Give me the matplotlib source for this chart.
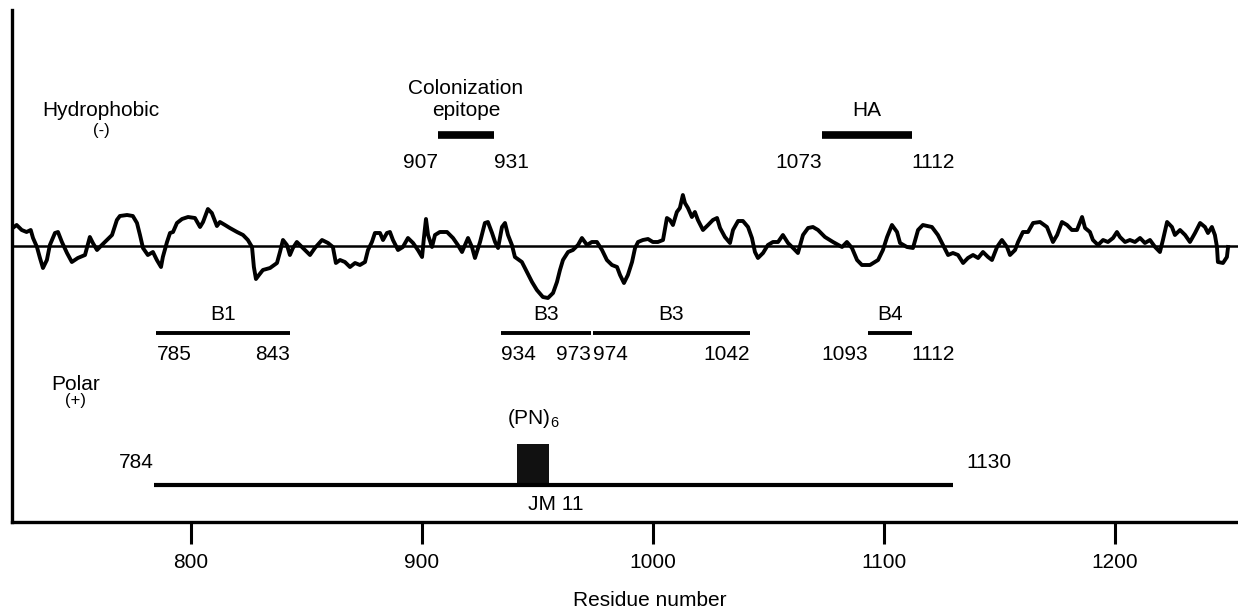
import matplotlib
matplotlib.use("Agg")
import matplotlib.pyplot as plt

plt.rcParams['font.family'] = ['Liberation Sans', 'DejaVu Sans']
plt.rcParams['mathtext.default'] = 'regular'

# hydropathy profile (positive = polar, drawn downwards)
residue = [722.8, 724.5, 726.7, 728.8, 730.6, 731.6, 733.3, 734.6, 735.9, 737.6,
           738.9, 741.1, 742.4, 744.1, 746.3, 748.4, 751.0, 754.1, 756.2, 757.5,
           759.3, 761.4, 763.6, 765.8, 767.9, 769.2, 772.3, 774.8, 776.6, 777.9,
           779.2, 781.3, 783.5, 785.2, 787.0, 787.8, 789.6, 790.9, 792.2, 793.9,
           796.1, 798.7, 801.7, 803.9, 805.2, 807.3, 809.0, 811.2, 812.5, 814.7,
           816.8, 819.9, 822.5, 824.6, 826.4, 827.2, 828.1, 829.4, 831.1, 834.2,
           837.2, 838.5, 839.8, 841.5, 842.8, 844.1, 845.8, 848.0, 849.3, 851.5,
           853.6, 856.7, 859.3, 861.4, 862.7, 864.5, 866.6, 868.8, 871.0, 873.1,
           875.3, 876.6, 878.3, 879.6, 881.8, 883.1, 884.8, 886.1, 887.4, 889.6,
           891.7, 893.9, 896.1, 898.2, 900.0, 900.8, 901.7, 902.6, 904.3, 905.6,
           907.7, 910.8, 913.4, 915.5, 917.3, 918.6, 919.9, 921.6, 922.9, 925.1,
           927.2, 928.5, 930.3, 931.6, 932.9, 934.6, 935.9, 937.2, 938.9, 940.2,
           943.2, 945.4, 947.6, 949.7, 952.3, 954.5, 956.7, 958.4, 959.7, 961.0,
           963.2, 965.3, 967.5, 969.2, 971.4, 973.5, 975.7, 977.9, 980.0, 982.2,
           984.4, 985.7, 987.4, 989.1, 990.9, 992.2, 993.5, 995.6, 997.8, 999.9,
           1002.1, 1004.3, 1006.0, 1007.3, 1008.6, 1010.3, 1011.6, 1012.9, 1013.8, 1015.1,
           1016.8, 1018.1, 1019.4, 1021.6, 1023.8, 1025.9, 1027.7, 1029.0, 1031.1, 1033.3,
           1034.6, 1036.8, 1038.9, 1041.1, 1042.8, 1044.1, 1045.4, 1047.6, 1049.7, 1051.9,
           1054.1, 1056.2, 1058.4, 1060.6, 1062.7, 1064.9, 1067.1, 1069.2, 1071.4, 1074.4,
           1077.9, 1081.8, 1083.9, 1086.1, 1088.3, 1090.4, 1093.9, 1097.4, 1099.5, 1101.3,
           1103.4, 1105.6, 1106.9, 1109.9, 1112.5, 1114.7, 1116.8, 1120.7, 1123.3, 1125.5,
           1127.7, 1129.8, 1132.0, 1134.2, 1136.3, 1138.5, 1140.7, 1142.8, 1145.0, 1146.7,
           1148.9, 1151.0, 1153.2, 1154.5, 1156.7, 1158.0, 1160.1, 1162.3, 1164.5, 1167.5,
           1170.5, 1173.1, 1174.9, 1177.0, 1179.2, 1181.3, 1183.5, 1185.7, 1187.0, 1189.1,
           1190.4, 1192.6, 1194.8, 1196.9, 1199.1, 1200.8, 1202.1, 1204.3, 1206.4, 1208.6,
           1210.8, 1212.9, 1215.1, 1217.3, 1219.4, 1220.7, 1222.5, 1224.6, 1225.9, 1228.1,
           1230.3, 1232.4, 1234.6, 1236.8, 1238.9, 1240.2, 1241.9, 1243.2, 1244.1, 1244.5,
           1246.7, 1248.4, 1248.9]
hydropathy = [-0.72, -0.84, -0.64, -0.56, -0.64, -0.32, 0.04, 0.48, 0.88, 0.56,
              -0.04, -0.52, -0.56, -0.16, 0.28, 0.64, 0.48, 0.36, -0.36, -0.12,
              0.16, -0.04, -0.24, -0.44, -1.04, -1.2, -1.24, -1.2, -0.92, -0.44,
              0.08, 0.36, 0.24, 0.56, 0.84, 0.44, -0.16, -0.52, -0.56, -0.92,
              -1.08, -1.16, -1.12, -0.76, -0.96, -1.48, -1.32, -0.8, -0.96, -0.84,
              -0.72, -0.56, -0.44, -0.24, 0.04, 0.84, 1.32, 1.16, 0.96, 0.88,
              0.68, 0.24, -0.24, -0.04, 0.36, 0.08, -0.16, 0.04, 0.16, 0.36,
              0.08, -0.24, -0.12, 0.04, 0.68, 0.56, 0.64, 0.84, 0.68, 0.76,
              0.64, 0.16, -0.16, -0.52, -0.52, -0.24, -0.52, -0.56, -0.24, 0.16,
              0.04, -0.32, -0.12, 0.16, 0.44, -0.32, -1.08, -0.44, 0.04, -0.44,
              -0.56, -0.56, -0.32, -0.04, 0.24, -0.04, -0.32, 0.04, 0.48, -0.16,
              -0.92, -0.96, -0.52, -0.16, 0.08, -0.76, -0.92, -0.44, -0.04, 0.44,
              0.64, 1.04, 1.44, 1.76, 2.04, 2.08, 1.88, 1.44, 0.96, 0.56,
              0.24, 0.16, -0.04, -0.32, -0.04, -0.16, -0.16, 0.16, 0.56, 0.76,
              0.84, 1.16, 1.48, 1.16, 0.64, 0.08, -0.16, -0.24, -0.28, -0.16,
              -0.16, -0.24, -1.12, -1.04, -0.84, -1.36, -1.52, -2.04, -1.72, -1.52,
              -1.16, -1.36, -1.04, -0.64, -0.84, -1.04, -1.12, -0.72, -0.36, -0.12,
              -0.64, -1.0, -1.0, -0.76, -0.32, 0.24, 0.48, 0.28, -0.04, -0.16,
              -0.16, -0.44, -0.12, 0.08, 0.28, -0.44, -0.72, -0.76, -0.64, -0.36,
              -0.16, 0.04, -0.16, 0.08, 0.56, 0.76, 0.76, 0.56, 0.16, -0.36,
              -0.84, -0.56, -0.12, 0.04, 0.08, -0.64, -0.84, -0.76, -0.44, -0.04,
              0.36, 0.28, 0.36, 0.68, 0.48, 0.36, 0.48, 0.24, 0.44, 0.56,
              0.04, -0.24, 0.04, 0.36, 0.16, -0.16, -0.56, -0.56, -0.92, -0.96,
              -0.76, -0.16, -0.44, -0.96, -0.84, -0.64, -0.64, -1.16, -0.72, -0.56,
              -0.24, -0.04, -0.24, -0.16, -0.32, -0.56, -0.36, -0.16, -0.24, -0.16,
              -0.32, -0.12, -0.24, 0.04, 0.24, -0.24, -0.96, -0.76, -0.44, -0.64,
              -0.44, -0.16, -0.52, -0.92, -0.76, -0.52, -0.76, -0.44, 0.04, 0.64,
              0.68, 0.44, 0.04]

# regions marked above the profile
top_labels = ['Colonization\nepitope', 'HA']
top_start = [907, 1073]
top_end = [931, 1112]

# B-cell epitopes below the profile
b_labels = ['B1', 'B3', 'B3', 'B4']
b_start = [785, 934, 974, 1093]
b_end = [843, 973, 1042, 1112]

# JM 11 fragment and the (PN)6 repeat
jm_start, jm_end = 784, 1130
pn_start, pn_end = 941, 955

ticks = [800, 900, 1000, 1100, 1200]

fig = plt.figure(figsize=(12.38, 6.12), dpi=100)
ax = fig.add_axes([12 / 1238, 90 / 612, 1226 / 1238, 512 / 612])

ax.plot(residue, hydropathy, color='black', lw=2.8, solid_joinstyle='round')
ax.axhline(0, color='black', lw=1.8)

fs = 15
# colonization epitope and HA (thick bars)
for lab, s, e in zip(top_labels, top_start, top_end):
    ax.plot([s, e], [-4.44, -4.44], color='black', lw=5.5, solid_capstyle='butt')
    ax.text((s + e) / 2, -5.2, lab, ha='center', va='baseline', fontsize=fs, linespacing=1.2)
    ax.text(s, -3.36, str(s), ha='right', va='center', fontsize=fs)
    ax.text(e, -3.36, str(e), ha='left', va='center', fontsize=fs)

start_ha = ['left', 'left', 'left', 'right']
end_ha = ['right', 'right', 'right', 'left']
for lab, s, e, sh, eh in zip(b_labels, b_start, b_end, start_ha, end_ha):
    ax.plot([s, e], [3.48, 3.48], color='black', lw=2.8, solid_capstyle='butt')
    ax.text((s + e) / 2, 2.76, lab, ha='center', va='center', fontsize=fs)
    ax.text(s, 4.36, str(s), ha=sh, va='center', fontsize=fs)
    ax.text(e, 4.36, str(e), ha=eh, va='center', fontsize=fs)

ax.plot([jm_start, jm_end], [9.56, 9.56], color='black', lw=3, solid_capstyle='butt')
ax.fill_between([pn_start, pn_end], 7.92, 9.56, color='#111111', lw=0)
ax.text((pn_start + pn_end) / 2, 6.9, r'(PN)$_6$', ha='center', va='center', fontsize=fs)
ax.text(jm_start, 8.68, str(jm_start), ha='right', va='center', fontsize=fs)
ax.annotate(str(jm_end), (jm_end, 8.68), xytext=(9, 0), textcoords='offset points',
            ha='left', va='center', fontsize=fs)
ax.text((pn_start + pn_end) / 2 + 10, 10.36, 'JM 11', ha='center', va='center', fontsize=fs)

ax.text(761, -5.2, 'Hydrophobic', ha='center', va='baseline', fontsize=fs)
ax.text(761, -4.6, '(-)', ha='center', va='center', fontsize=12)
ax.text(750, 5.56, 'Polar', ha='center', va='center', fontsize=fs)
ax.text(750, 6.16, '(+)', ha='center', va='center', fontsize=12)

ax.set_xlim(722.5, 1253.2)
ax.set_ylim(11.04, -9.44)
ax.set_xticks(ticks)
ax.set_xticklabels([str(t) for t in ticks])
ax.set_yticks([])
ax.tick_params(axis='x', length=16, width=2.2, pad=6, labelsize=fs)
for side in ['top', 'right']:
    ax.spines[side].set_visible(False)
for side in ['left', 'bottom']:
    ax.spines[side].set_linewidth(2.4)
ax.set_xlabel('Residue number', fontsize=fs)
ax.xaxis.set_label_coords(0.52, -0.135)

fig.savefig('out.png', dpi=100)
